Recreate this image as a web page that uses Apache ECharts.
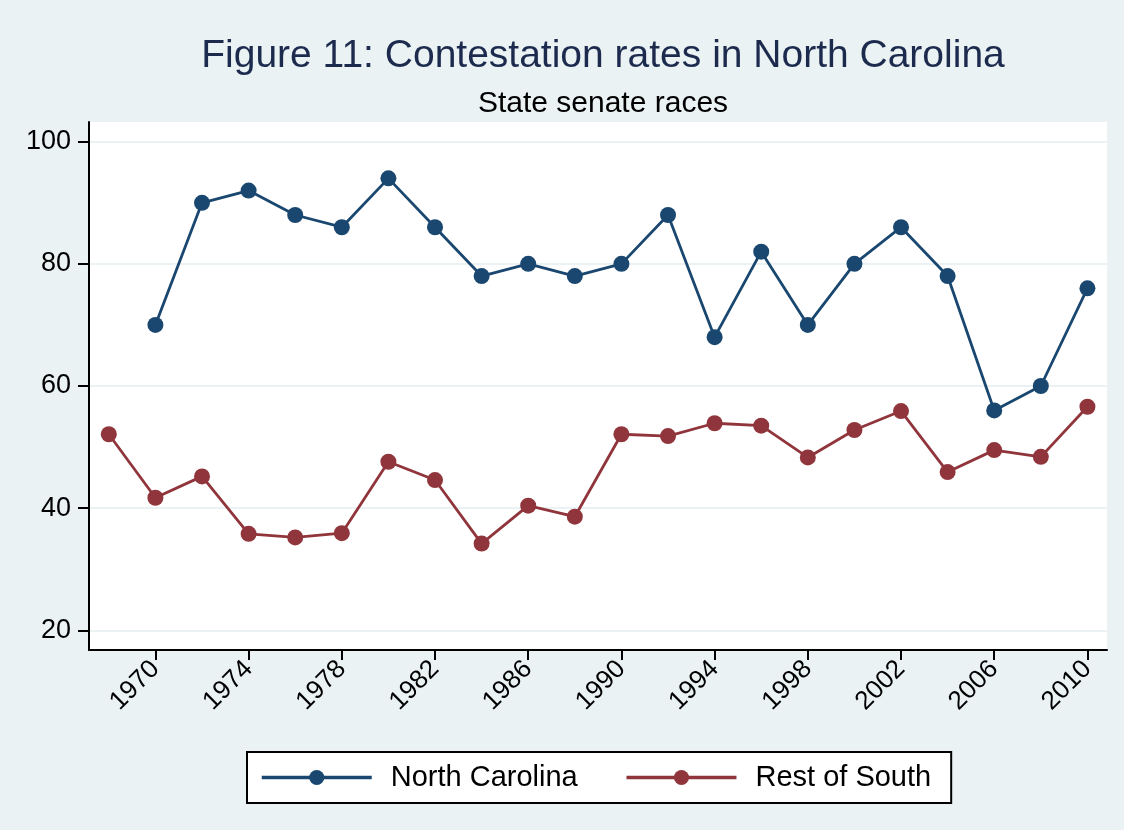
<!DOCTYPE html>
<html>
<head>
<meta charset="utf-8">
<script src="https://cdn.jsdelivr.net/npm/echarts@6/dist/echarts.min.js"></script>
<style>
html,body{margin:0;padding:0;background:#EAF2F3;}
#chart{width:1124px;height:830px;}
</style>
</head>
<body>
<div id="chart"></div>
<script>
const years = [1968,1970,1972,1974,1976,1978,1980,1982,1984,1986,1988,1990,1992,1994,1996,1998,2000,2002,2004,2006,2008,2010];
const northCarolina = [null,70,90,92,88,86,94,86,78,80,78,80,88,68,82,70,80,86,78,56,60,76];
const restOfSouth = [52.1,41.7,45.2,35.8,35.2,35.9,47.6,44.6,34.2,40.4,38.6,52.1,51.8,53.9,53.5,48.3,52.8,55.9,45.9,49.5,48.4,56.6];
const xTicks = [1970,1974,1978,1982,1986,1990,1994,1998,2002,2006,2010];
const yTicks = [20,40,60,80,100];

const pair = (vals) => years.map((y,i) => [y, vals[i]]);

const chart = echarts.init(document.getElementById('chart'), null, {renderer:'canvas'});
const font = 'Liberation Sans, Arial, sans-serif';
chart.setOption({
  backgroundColor: '#EAF2F3',
  animation: false,
  title: [
    {text: 'Figure 11: Contestation rates in North Carolina', left: 598, textAlign: 'center', top: 32,
     textStyle: {fontFamily: font, fontSize: 39, fontWeight: 'normal', color: '#1c2a4e'}},
    {text: 'State senate races', left: 598, textAlign: 'center', top: 84,
     textStyle: {fontFamily: font, fontSize: 30, fontWeight: 'normal', color: '#000'}}
  ],
  grid: {left: 89, right: 17, top: 122, bottom: 180, show: true, backgroundColor: '#ffffff', borderWidth: 0},
  xAxis: {
    type: 'value', min: 1967.15, max: 2010.84,
    axisLine: {show: true, onZero: false, lineStyle: {color: '#000', width: 2}},
    axisTick: {show: true, length: 10, lineStyle: {color: '#000', width: 2}, customValues: xTicks},
    axisLabel: {customValues: xTicks, rotate: 45, margin: 15, fontFamily: font, fontSize: 26, color: '#000',
      formatter: (v) => String(v)},
    splitLine: {show: false}
  },
  yAxis: {
    type: 'value', min: 16.77, max: 103.23,
    axisLine: {show: true, onZero: false, lineStyle: {color: '#000', width: 2}},
    axisTick: {show: true, length: 11, lineStyle: {color: '#000', width: 2}, customValues: yTicks},
    axisLabel: {customValues: yTicks, margin: 18, fontFamily: font, fontSize: 27, color: '#000'},
    splitLine: {show: true, lineStyle: {color: '#EAF2F3', width: 2}}
  },
  legend: {
    left: 247, top: 752, orient: 'horizontal',
    padding: [11, 20, 11, 13],
    itemWidth: 110, itemHeight: 19, itemGap: 47,
    backgroundColor: '#ffffff', borderColor: '#000', borderWidth: 2,
    textStyle: {fontFamily: font, fontSize: 29, color: '#000', padding: [0,0,0,14]},
    data: [
      {name: 'North Carolina', lineStyle: {width: 3.5}},
      {name: 'Rest of South', lineStyle: {width: 3.5}}
    ]
  },
  series: [
    {name: 'North Carolina', type: 'line', data: pair(northCarolina), connectNulls: false,
     symbol: 'circle', symbolSize: 16, showAllSymbol: true,
     lineStyle: {color: '#1A476F', width: 2.8}, itemStyle: {color: '#1A476F'}},
    {name: 'Rest of South', type: 'line', data: pair(restOfSouth),
     symbol: 'circle', symbolSize: 16, showAllSymbol: true,
     lineStyle: {color: '#90353B', width: 2.8}, itemStyle: {color: '#90353B'}}
  ]
});
</script>
</body>
</html>
